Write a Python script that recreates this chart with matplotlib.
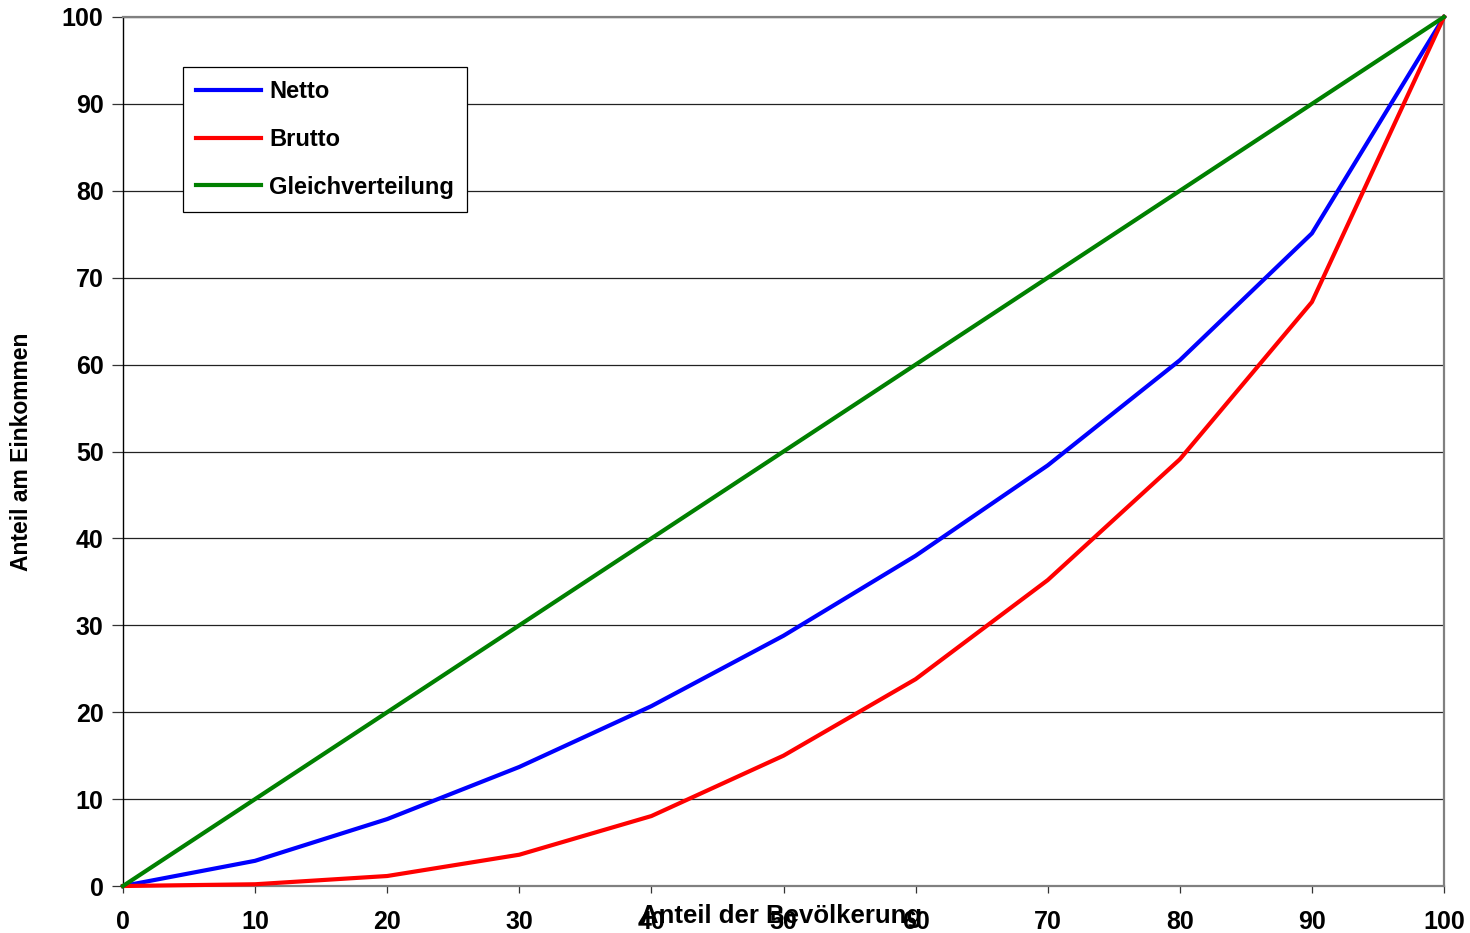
import matplotlib
matplotlib.use("Agg")
import matplotlib.pyplot as plt

# Lorenz curves: share of population vs. share of income (percent)
population_share = [0, 10, 20, 30, 40, 50, 60, 70, 80, 90, 100]
netto = [0, 2.9, 7.7, 13.7, 20.7, 28.8, 38.0, 48.4, 60.5, 75.1, 100]
brutto = [0, 0.2, 1.15, 3.6, 8.05, 15.0, 23.8, 35.2, 49.1, 67.2, 100]
gleichverteilung = [0, 10, 20, 30, 40, 50, 60, 70, 80, 90, 100]

series_names = ["Netto", "Brutto", "Gleichverteilung"]
series_colors = ["#0000ff", "#ff0000", "#008000"]
tick_values = [0, 10, 20, 30, 40, 50, 60, 70, 80, 90, 100]

plt.rcParams["font.family"] = ["Liberation Sans", "DejaVu Sans"]
plt.rcParams["font.weight"] = "bold"

fig = plt.figure(figsize=(14.7, 9.33), dpi=100)
ax = fig.add_axes([123 / 1470, 47 / 933, 1321 / 1470, 869 / 933])

for vals, name, col in zip([netto, brutto, gleichverteilung], series_names, series_colors):
    ax.plot(population_share, vals, color=col, lw=3.0, label=name,
            solid_joinstyle="round", zorder=3, clip_on=False)

ax.set_xlim(0, 100)
ax.set_ylim(0, 100)
ax.set_xticks(tick_values)
ax.set_yticks(tick_values)
ax.set_xticklabels([str(v) for v in tick_values], fontsize=18, fontweight="bold")
ax.set_yticklabels([str(v) for v in tick_values], fontsize=18, fontweight="bold")

ax.yaxis.grid(True, color="#222222", lw=0.9)
ax.set_axisbelow(True)
ax.tick_params(axis="y", direction="out", length=8, width=0.9, color="#333333", pad=6)
ax.tick_params(axis="x", direction="out", length=5, width=0.9, color="#333333", pad=12)

ax.spines["left"].set_color("black")
ax.spines["left"].set_linewidth(1.0)
for s in ["top", "right", "bottom"]:
    ax.spines[s].set_color("#808080")
    ax.spines[s].set_linewidth(1.6)

ax.set_ylabel("Anteil am Einkommen", fontsize=16.5, fontweight="bold")
ax.yaxis.set_label_coords(-0.068, 0.5)
ax.set_xlabel("Anteil der Bevölkerung", fontsize=18.5, fontweight="bold", va="top")
ax.xaxis.set_label_coords(0.498, -0.021)

leg = ax.legend(loc="upper left", bbox_to_anchor=(60 / 1321, 1 - 50 / 869),
                frameon=True, fancybox=False, edgecolor="black", framealpha=1,
                prop={"size": 17, "weight": "bold"}, handlelength=2.75,
                handletextpad=0.35, labelspacing=1.05, borderpad=0.55,
                borderaxespad=0)
leg.get_frame().set_linewidth(0.9)

fig.savefig("out.png", dpi=100)
